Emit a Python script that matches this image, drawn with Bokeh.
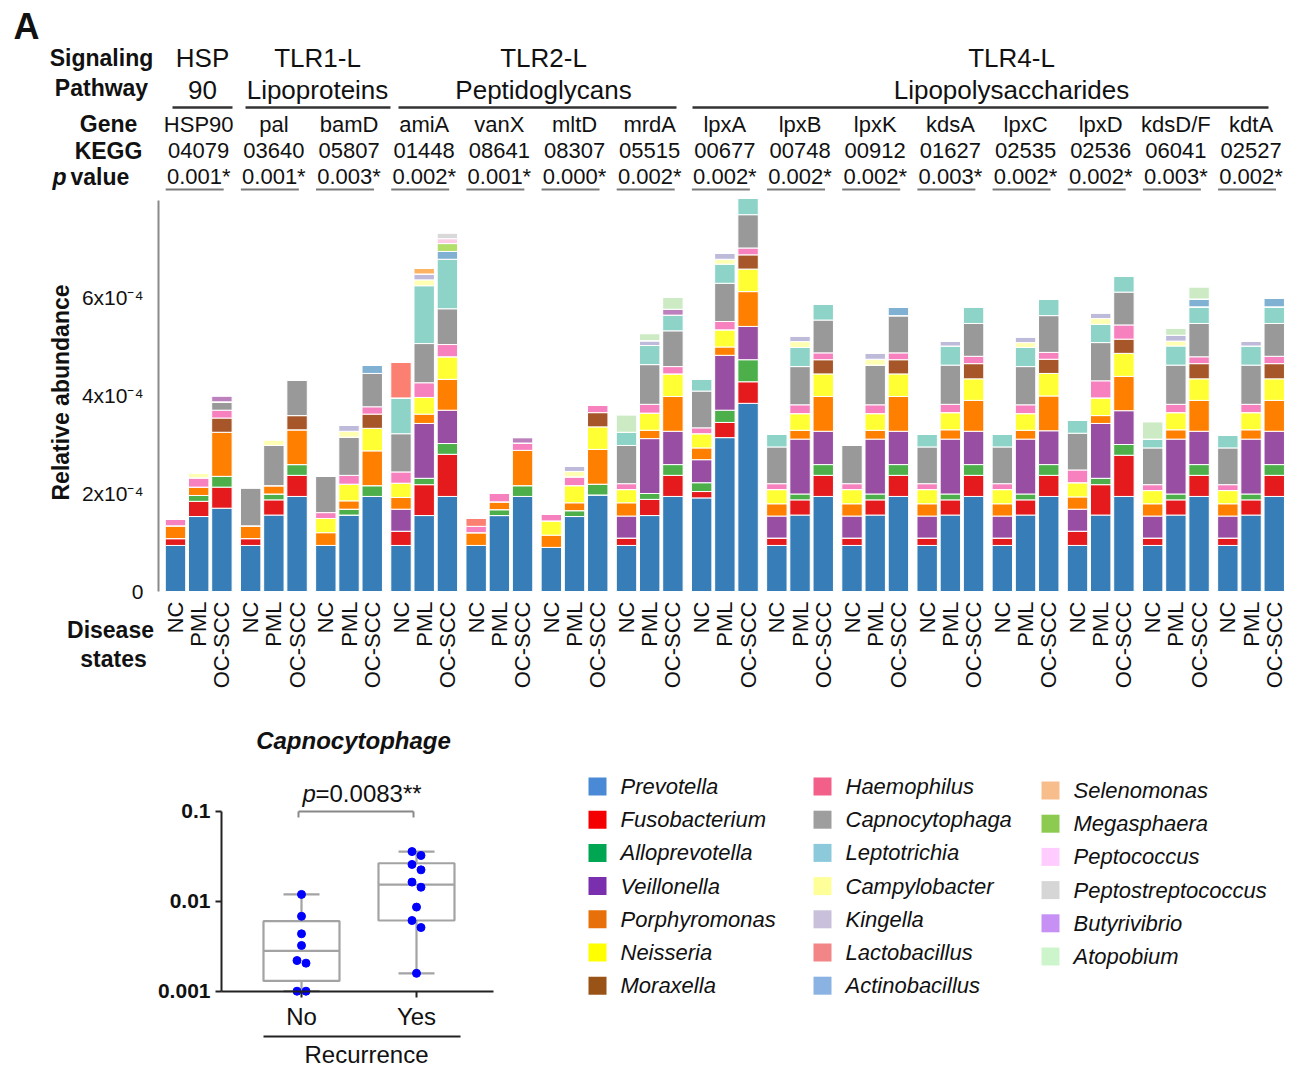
from bokeh.plotting import figure
from bokeh.layouts import column, row
from bokeh.models import ColumnDataSource, FixedTicker, Range1d, CustomJSTickFormatter
from bokeh.core.properties import value
from bokeh.embed import file_html
from bokeh.resources import INLINE
import math

FONT = value("Liberation Sans")

# ---------------- data ----------------
genes = ["HSP90", "pal", "bamD", "amiA", "vanX", "mltD", "mrdA", "lpxA", "lpxB",
         "lpxK", "kdsA", "lpxC", "lpxD", "kdsD/F", "kdtA"]
kegg = ["04079", "03640", "05807", "01448", "08641", "08307", "05515", "00677",
        "00748", "00912", "01627", "02535", "02536", "06041", "02527"]
p_values = ["0.001*", "0.001*", "0.003*", "0.002*", "0.001*", "0.000*", "0.002*",
            "0.002*", "0.002*", "0.002*", "0.003*", "0.002*", "0.002*", "0.003*", "0.002*"]
states = ["NC", "PML", "OC-SCC"]
pathway_line1 = ["HSP", "TLR1-L", "TLR2-L", "TLR4-L"]
pathway_line2 = ["90", "Lipoproteins", "Peptidoglycans", "Lipopolysaccharides"]

# relative abundance, units of 1e-4; 15 genes x (NC, PML, OC-SCC)
prevotella = [0.94, 1.53, 1.70, 0.94, 1.56, 1.94, 0.94, 1.56, 1.94, 0.94, 1.55, 1.94,
              0.94, 1.55, 1.94, 0.90, 1.53, 1.97, 0.94, 1.55, 1.94, 1.91, 3.14, 3.84,
              0.94, 1.56, 1.94, 0.94, 1.56, 1.94, 0.94, 1.56, 1.94, 0.94, 1.56, 1.94,
              0.94, 1.56, 1.94, 0.94, 1.56, 1.94, 0.94, 1.56, 1.94]
fusobacterium = [0.14, 0.31, 0.43, 0.14, 0.31, 0.43, 0, 0, 0, 0.29, 0.63, 0.86,
                 0, 0, 0, 0, 0, 0, 0.15, 0.33, 0.43, 0.13, 0.31, 0.44,
                 0.15, 0.31, 0.43, 0.15, 0.31, 0.43, 0.15, 0.31, 0.43, 0.15, 0.31, 0.43,
                 0.29, 0.62, 0.84, 0.15, 0.31, 0.43, 0.15, 0.31, 0.43]
alloprevotella = [0, 0.12, 0.22, 0, 0.12, 0.22, 0, 0.12, 0.22, 0, 0.13, 0.22,
                  0, 0.12, 0.22, 0, 0.12, 0.22, 0, 0.12, 0.22, 0.18, 0.25, 0.45,
                  0, 0.12, 0.22, 0, 0.12, 0.22, 0, 0.12, 0.22, 0, 0.12, 0.22,
                  0, 0.13, 0.22, 0, 0.12, 0.22, 0, 0.12, 0.22]
veillonella = [0, 0, 0, 0, 0, 0, 0, 0, 0, 0.45, 1.12, 0.68,
               0, 0, 0, 0, 0, 0, 0.45, 1.12, 0.68, 0.47, 1.12, 0.68,
               0.45, 1.12, 0.68, 0.45, 1.12, 0.68, 0.45, 1.12, 0.68, 0.45, 1.12, 0.69,
               0.45, 1.12, 0.69, 0.45, 1.12, 0.68, 0.45, 1.12, 0.68]
porphyromonas = [0.26, 0.17, 0.90, 0.26, 0.17, 0.71, 0.26, 0.17, 0.71, 0.24, 0.19, 0.63,
                 0.26, 0.16, 0.72, 0.25, 0.16, 0.71, 0.27, 0.17, 0.71, 0.24, 0.17, 0.71,
                 0.25, 0.18, 0.71, 0.25, 0.18, 0.71, 0.25, 0.19, 0.63, 0.25, 0.18, 0.71,
                 0.25, 0.16, 0.70, 0.25, 0.19, 0.63, 0.25, 0.19, 0.63]
neisseria = [0, 0, 0, 0, 0, 0, 0.29, 0.34, 0.46, 0.29, 0.34, 0.46,
             0, 0, 0, 0.29, 0.35, 0.46, 0.27, 0.35, 0.46, 0.29, 0.35, 0.46,
             0.29, 0.34, 0.46, 0.29, 0.34, 0.46, 0.29, 0.35, 0.44, 0.29, 0.34, 0.46,
             0.29, 0.36, 0.47, 0.27, 0.35, 0.44, 0.27, 0.35, 0.44]
moraxella = [0, 0, 0.29, 0, 0, 0.29, 0, 0, 0.29, 0, 0, 0,
             0, 0, 0, 0, 0, 0.29, 0, 0, 0, 0, 0, 0.29,
             0, 0, 0.29, 0, 0, 0.29, 0, 0, 0.31, 0, 0, 0.29,
             0, 0, 0.29, 0, 0, 0.31, 0, 0, 0.31]
haemophilus = [0.13, 0.19, 0.16, 0, 0, 0, 0.12, 0.18, 0.15, 0.23, 0.30, 0.25,
               0.13, 0.18, 0.15, 0.14, 0.18, 0.15, 0.12, 0.18, 0.15, 0.12, 0.17, 0.14,
               0.12, 0.18, 0.14, 0.12, 0.18, 0.14, 0.12, 0.17, 0.15, 0.12, 0.18, 0.14,
               0.26, 0.35, 0.29, 0.12, 0.17, 0.14, 0.12, 0.17, 0.15]
capnocytophaga = [0, 0, 0.17, 0.78, 0.82, 0.73, 0.74, 0.78, 0.68, 0.78, 0.80, 0.73,
                  0, 0, 0, 0, 0, 0, 0.78, 0.81, 0.73, 0.75, 0.78, 0.68,
                  0.75, 0.78, 0.67, 0.78, 0.81, 0.76, 0.75, 0.80, 0.67, 0.75, 0.78, 0.75,
                  0.75, 0.78, 0.67, 0.75, 0.80, 0.68, 0.75, 0.80, 0.67]
leptotrichia = [0, 0, 0, 0, 0, 0, 0, 0, 0, 0.73, 1.18, 1.01,
                0, 0, 0, 0, 0, 0, 0.27, 0.39, 0.32, 0.25, 0.39, 0.34,
                0.26, 0.39, 0.33, 0, 0, 0, 0.26, 0.39, 0.34, 0.26, 0.39, 0.33,
                0.26, 0.37, 0.33, 0.18, 0.39, 0.34, 0.26, 0.39, 0.34]
campylobacter = [0, 0.10, 0, 0, 0.12, 0, 0, 0.12, 0, 0, 0.12, 0,
                 0, 0, 0, 0, 0.11, 0, 0, 0, 0, 0, 0.10, 0,
                 0, 0.12, 0, 0, 0.12, 0, 0, 0, 0, 0, 0.10, 0,
                 0, 0.12, 0, 0, 0.10, 0, 0, 0, 0]
kingella = [0, 0, 0, 0, 0, 0, 0, 0.12, 0, 0, 0.12, 0,
            0, 0, 0, 0, 0.11, 0, 0, 0.10, 0, 0, 0.12, 0,
            0, 0.12, 0, 0, 0.12, 0, 0, 0.10, 0, 0, 0.12, 0,
            0, 0.12, 0, 0, 0.12, 0, 0, 0.10, 0]
lactobacillus = [0, 0, 0, 0, 0, 0, 0, 0, 0, 0.73, 0, 0,
                 0.16, 0, 0, 0, 0, 0, 0, 0, 0, 0, 0, 0,
                 0, 0, 0, 0, 0, 0, 0, 0, 0, 0, 0, 0,
                 0, 0, 0, 0, 0, 0, 0, 0, 0]
actinobacillus = [0, 0, 0, 0, 0, 0, 0, 0, 0.17, 0, 0, 0.16,
                  0, 0, 0, 0, 0, 0, 0, 0, 0, 0, 0, 0,
                  0, 0, 0, 0, 0, 0.17, 0, 0, 0, 0, 0, 0,
                  0, 0, 0, 0, 0, 0.16, 0, 0, 0.17]
selenomonas = [0, 0, 0, 0, 0, 0, 0, 0, 0, 0, 0.12, 0,
               0, 0, 0, 0, 0, 0, 0, 0, 0, 0, 0, 0,
               0, 0, 0, 0, 0, 0, 0, 0, 0, 0, 0, 0,
               0, 0, 0, 0, 0, 0, 0, 0, 0]
megasphaera = [0, 0, 0, 0, 0, 0, 0, 0, 0, 0, 0, 0.16,
               0, 0, 0, 0, 0, 0, 0, 0, 0, 0, 0, 0,
               0, 0, 0, 0, 0, 0, 0, 0, 0, 0, 0, 0,
               0, 0, 0, 0, 0, 0, 0, 0, 0]
peptococcus = [0, 0, 0, 0, 0, 0, 0, 0, 0, 0, 0, 0.10,
               0, 0, 0, 0, 0, 0, 0, 0, 0, 0, 0, 0,
               0, 0, 0, 0, 0, 0, 0, 0, 0, 0, 0, 0,
               0, 0, 0, 0, 0, 0, 0, 0, 0]
peptostreptococcus = [0, 0, 0, 0, 0, 0, 0, 0, 0, 0, 0, 0.12,
                      0, 0, 0, 0, 0, 0, 0, 0, 0, 0, 0, 0,
                      0, 0, 0, 0, 0, 0, 0, 0, 0, 0, 0, 0,
                      0, 0, 0, 0, 0, 0, 0, 0, 0]
butyrivibrio = [0, 0, 0.12, 0, 0, 0, 0, 0, 0, 0, 0, 0,
                0, 0, 0.11, 0, 0, 0, 0, 0, 0.12, 0, 0, 0,
                0, 0, 0, 0, 0, 0, 0, 0, 0, 0, 0, 0,
                0, 0, 0, 0, 0, 0, 0, 0, 0]
atopobium = [0, 0, 0, 0, 0, 0, 0, 0, 0, 0, 0, 0,
             0, 0, 0, 0, 0, 0, 0.35, 0.14, 0.24, 0, 0, 0,
             0, 0, 0, 0, 0, 0, 0, 0, 0, 0, 0, 0,
             0, 0, 0, 0.35, 0.14, 0.24, 0, 0, 0]

genera = ["Prevotella", "Fusobacterium", "Alloprevotella", "Veillonella", "Porphyromonas",
          "Neisseria", "Moraxella", "Haemophilus", "Capnocytophaga", "Leptotrichia",
          "Campylobacter", "Kingella", "Lactobacillus", "Actinobacillus", "Selenomonas",
          "Megasphaera", "Peptococcus", "Peptostreptococcus", "Butyrivibrio", "Atopobium"]
series = [prevotella, fusobacterium, alloprevotella, veillonella, porphyromonas,
          neisseria, moraxella, haemophilus, capnocytophaga, leptotrichia,
          campylobacter, kingella, lactobacillus, actinobacillus, selenomonas,
          megasphaera, peptococcus, peptostreptococcus, butyrivibrio, atopobium]
bar_colors = ["#377EB8", "#E41A1C", "#4DAF4A", "#984EA3", "#FF7F00", "#FFFF33", "#A65628",
              "#F781BF", "#999999", "#8DD3C7", "#FFFFB3", "#BEBADA", "#FB8072", "#80B1D3",
              "#FDB462", "#B3DE69", "#FCCDE5", "#D9D9D9", "#BC80BD", "#CCEBC5"]
legend_colors = ["#4A89D6", "#F50000", "#00A651", "#7A30AE", "#E8700A", "#FFFF00", "#9A5316",
                 "#F2608A", "#9E9E9E", "#8CCADB", "#FFFF99", "#C9C0DB", "#F28585", "#8AB2E3",
                 "#F7BD8A", "#8CCB4F", "#FFCCFF", "#D6D6D6", "#C690F5", "#CCF5CC"]

# box plot (Capnocytophaga vs recurrence)
recurrence = ["No", "Yes"]
no_values = [0.0119, 0.0068, 0.00434, 0.00322, 0.00219, 0.00205, 0.001, 0.001]
yes_values = [0.0356, 0.0322, 0.0256, 0.0223, 0.0163, 0.0143, 0.0086, 0.0061, 0.0051, 0.00158]
box_q1 = [0.0013, 0.0061]
box_median = [0.0028, 0.0153]
box_q3 = [0.0060, 0.0264]
whisker_low = [0.001, 0.00158]
whisker_high = [0.0119, 0.0356]

# ---------------- geometry (page pixels) ----------------
PAGE_W = 1295
TOP_H = 709
BOT_H = 359
BOX_W = 568

X_PX, X_ORIGIN, GROUP_STEP = 23.2, 175.0, 3.24
Y_PX, Y_ORIGIN = 49.0, 591.0


def tx(px):
    return (px - X_ORIGIN) / X_PX


def ty(py):
    return (Y_ORIGIN - py) / Y_PX


top = figure(width=PAGE_W, height=TOP_H, x_range=Range1d(tx(0), tx(PAGE_W)),
             y_range=Range1d(ty(TOP_H), ty(0)), output_backend="svg",
             toolbar_location=None, title_location=None, min_border=0)
top.outline_line_color = None
top.xgrid.visible = False
top.ygrid.visible = False

xs = [g * GROUP_STEP + j for g in range(len(genes)) for j in range(len(states))]
data = {"x": xs}
for name, vals in zip(genera, series):
    data[name] = vals
src = ColumnDataSource(data)
top.vbar_stack(genera, x="x", width=0.88, fill_color=bar_colors, line_color="white",
               line_width=1, source=src)

# y axis
top.yaxis.fixed_location = tx(158)
top.yaxis.bounds = (0, ty(200))
top.yaxis.ticker = FixedTicker(ticks=[0, 2, 4, 6])
top.yaxis.major_label_overrides = {0: "0", 2: "2x10\u207b\u2074", 4: "4x10\u207b\u2074",
                                   6: "6x10\u207b\u2074"}
top.yaxis.major_tick_line_color = None
top.yaxis.minor_tick_line_color = None
top.yaxis.axis_line_color = "#8a8a8a"
top.yaxis.axis_line_width = 2
top.yaxis.major_label_text_font = "Liberation Sans"
top.yaxis.major_label_text_font_size = "21px"
top.yaxis.major_label_text_color = "#111111"
top.yaxis.major_label_standoff = 9

# x axis (disease states)
top.xaxis.fixed_location = 0
top.xaxis.ticker = FixedTicker(ticks=xs)
top.xaxis.formatter = CustomJSTickFormatter(args=dict(labels=states),
                                            code="return labels[index % labels.length];")
top.xaxis.major_label_orientation = math.pi / 2
top.xaxis.axis_line_color = None
top.xaxis.major_tick_line_color = None
top.xaxis.minor_tick_line_color = None
top.xaxis.major_label_text_font = "Liberation Sans"
top.xaxis.major_label_text_font_size = "22px"
top.xaxis.major_label_text_color = "#111111"
top.xaxis.major_label_standoff = 4

txt = dict(text_font=FONT, text_align="center", text_baseline="middle", text_color="#111111")
gc = [g * GROUP_STEP + 1 for g in range(len(genes))]
top.text(x=gc, y=[ty(124)] * len(gc), text=genes, text_font_size="22px", **txt)
top.text(x=gc, y=[ty(150)] * len(gc), text=kegg, text_font_size="22px", **txt)
top.text(x=gc, y=[ty(176)] * len(gc), text=p_values, text_font_size="22px", **txt)
top.segment(x0=[c - 33 / X_PX for c in gc], y0=[ty(189)] * len(gc),
            x1=[c + 25 / X_PX for c in gc], y1=[ty(189)] * len(gc),
            line_color="#7a7a7a", line_width=2)

path_cx = [202, 317, 543, 1011]
path_spans = [(172, 232), (245, 390), (398, 676), (692, 1268)]
top.text(x=[tx(c) for c in path_cx], y=[ty(57)] * 4, text=pathway_line1,
         text_font_size="26px", **txt)
top.text(x=[tx(c) for c in path_cx], y=[ty(89)] * 4, text=pathway_line2,
         text_font_size="26px", **txt)
top.segment(x0=[tx(a) for a, b in path_spans], x1=[tx(b) for a, b in path_spans],
            y0=[ty(107)] * 4, y1=[ty(107)] * 4, line_color="#333333", line_width=2.5)

bold = dict(txt, text_font_style="bold")
top.text(x=[tx(101), tx(101), tx(108), tx(108)], y=[ty(57), ty(87), ty(123), ty(150)],
         text=["Signaling", "Pathway", "Gene", "KEGG"], text_font_size="23px", **bold)
top.text(x=[tx(52)], y=[ty(176)], text=["p"], text_font_size="23px", text_font=FONT,
         text_font_style="bold italic", text_align="left", text_baseline="middle",
         text_color="#111111")
top.text(x=[tx(70)], y=[ty(176)], text=["value"], text_font_size="23px", text_font=FONT,
         text_font_style="bold", text_align="left", text_baseline="middle",
         text_color="#111111")
top.text(x=[tx(110), tx(113)], y=[ty(629), ty(658)], text=["Disease", "states"],
         text_font_size="23px", **bold)
top.text(x=[tx(60)], y=[ty(392)], text=["Relative abundance"], angle=math.pi / 2,
         text_font_size="23px", **bold)
top.text(x=[tx(26)], y=[ty(26)], text=["A"], text_font_size="36px", **bold)

# ---------------- box plot ----------------
BX_PX, BX_ORIGIN = 115.0, 301.0
BY_PX, BY_ORIGIN = 90.0, 990.7


def bx(px):
    return (px - BX_ORIGIN) / BX_PX


def by(py):
    return 10 ** (-3 + (BY_ORIGIN - py) / BY_PX)


box = figure(width=BOX_W, height=BOT_H, x_range=Range1d(bx(0), bx(BOX_W)),
             y_range=Range1d(by(TOP_H + BOT_H), by(TOP_H)), y_axis_type="log",
             output_backend="svg", toolbar_location=None, title_location=None, min_border=0)
box.outline_line_color = None
box.xgrid.visible = False
box.ygrid.visible = False

box.yaxis.fixed_location = bx(221)
box.yaxis.bounds = (0.001, 0.1)
box.yaxis.ticker = FixedTicker(ticks=[0.001, 0.01, 0.1])
box.yaxis.formatter = CustomJSTickFormatter(code="return tick.toString();")
box.yaxis.minor_tick_line_color = None
box.yaxis.major_tick_out = 6
box.yaxis.major_tick_in = 0
box.yaxis.axis_line_color = "#222222"
box.yaxis.axis_line_width = 2
box.yaxis.major_tick_line_color = "#222222"
box.yaxis.major_tick_line_width = 2
box.yaxis.major_label_text_font = "Liberation Sans"
box.yaxis.major_label_text_font_style = "bold"
box.yaxis.major_label_text_font_size = "21px"
box.yaxis.major_label_text_color = "#111111"
box.yaxis.major_label_standoff = 5

box.xaxis.fixed_location = 0.001
box.xaxis.bounds = (bx(221), bx(493))
box.xaxis.ticker = FixedTicker(ticks=[0, 1])
box.xaxis.formatter = CustomJSTickFormatter(args=dict(labels=recurrence),
                                            code="return labels[Math.round(tick)];")
box.xaxis.minor_tick_line_color = None
box.xaxis.major_tick_out = 6
box.xaxis.major_tick_in = 0
box.xaxis.axis_line_color = "#222222"
box.xaxis.axis_line_width = 2
box.xaxis.major_tick_line_color = "#222222"
box.xaxis.major_tick_line_width = 2
box.xaxis.major_label_text_font = "Liberation Sans"
box.xaxis.major_label_text_font_size = "24px"
box.xaxis.major_label_text_color = "#111111"
box.xaxis.major_label_standoff = 6

cats = list(range(len(recurrence)))
half_box = 38 / BX_PX
half_cap = 18 / BX_PX
grey = "#a3a3a3"
box.quad(left=[c - half_box for c in cats], right=[c + half_box for c in cats],
         bottom=box_q1, top=box_q3, fill_color=None, line_color=grey, line_width=2.2)
box.segment(x0=[c - half_box for c in cats], x1=[c + half_box for c in cats],
            y0=box_median, y1=box_median, line_color=grey, line_width=2.2)
box.segment(x0=cats, x1=cats, y0=box_q3, y1=whisker_high, line_color=grey, line_width=2.2)
box.segment(x0=cats, x1=cats, y0=box_q1, y1=whisker_low, line_color=grey, line_width=2.2)
box.segment(x0=[c - half_cap for c in cats], x1=[c + half_cap for c in cats],
            y0=whisker_high, y1=whisker_high, line_color=grey, line_width=2.2)
box.segment(x0=[c - half_cap for c in cats], x1=[c + half_cap for c in cats],
            y0=whisker_low, y1=whisker_low, line_color=grey, line_width=2.2)


def dodge(vals, center):
    # spread points that nearly overlap (in log space) to either side
    order = sorted(range(len(vals)), key=lambda i: -vals[i])
    offs = [0.0] * len(vals)
    step = 4.5 / BX_PX
    prev = None
    for i in order:
        if prev is not None and abs(math.log10(vals[prev]) - math.log10(vals[i])) < 0.1:
            if offs[prev] == 0:
                offs[prev] = -step
            offs[i] = -offs[prev] if offs[prev] != 0 else step
        prev = i
    return [center + o for o in offs]


box.scatter(x=dodge(no_values, 0) + dodge(yes_values, 1), y=no_values + yes_values,
            size=8, color="#0000ff")

# significance bracket
bk_y = by(811)
bk_tip = by(817)
box.segment(x0=[bx(298)], x1=[bx(413)], y0=[bk_y], y1=[bk_y], line_color="#888888", line_width=2)
box.segment(x0=[bx(298), bx(413)], x1=[bx(298), bx(413)], y0=[bk_y, bk_y], y1=[bk_tip, bk_tip],
            line_color="#888888", line_width=2)
box.text(x=[bx(302)], y=[by(793)], text=["p"], text_font=FONT, text_font_style="italic",
         text_font_size="24px", text_align="left", text_baseline="middle", text_color="#111111")
box.text(x=[bx(315)], y=[by(793)], text=["=0.0083**"], text_font=FONT,
         text_font_size="24px", text_align="left", text_baseline="middle", text_color="#111111")
box.text(x=[bx(353)], y=[by(740)], text=["Capnocytophage"], text_font=FONT,
         text_font_style="bold italic", text_font_size="24px", text_align="center",
         text_baseline="middle", text_color="#111111")
box.segment(x0=[bx(263)], x1=[bx(460)], y0=[by(1036)], y1=[by(1036)],
            line_color="#222222", line_width=2)
box.text(x=[bx(366)], y=[by(1054)], text=["Recurrence"], text_font=FONT,
         text_font_size="24px", text_align="center", text_baseline="middle",
         text_color="#111111")

# ---------------- legend ----------------
leg = figure(width=PAGE_W - BOX_W, height=BOT_H, x_range=Range1d(BOX_W, PAGE_W),
             y_range=Range1d(TOP_H + BOT_H, TOP_H),
             output_backend="svg", toolbar_location=None, title_location=None, min_border=0)
leg.outline_line_color = None
leg.xgrid.visible = False
leg.ygrid.visible = False
leg.axis.visible = False

col_x = [597, 822, 1050]
row_y0 = [786, 786, 790]
ROW_STEP = 33.2
lx, ly = [], []
for i in range(len(genera)):
    c, r = i // 7, i % 7
    lx.append(col_x[c])
    ly.append(row_y0[c] + r * ROW_STEP)
leg.rect(x=lx, y=ly, width=18, height=18, fill_color=legend_colors, line_color=None)
leg.text(x=[v + 23 for v in lx], y=ly, text=genera, text_font=FONT, text_font_style="italic",
         text_font_size="22px", text_align="left", text_baseline="middle", text_color="#111111")

layout = column(top, row(box, leg))
open("out.html", "w").write(file_html(layout, INLINE))
